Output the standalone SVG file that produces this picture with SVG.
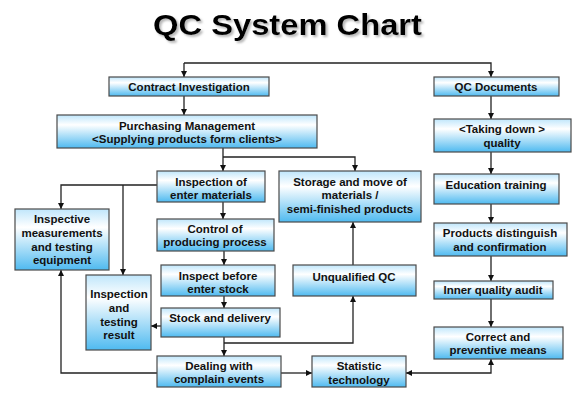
<svg xmlns="http://www.w3.org/2000/svg" width="585" height="402" viewBox="0 0 585 402">
<style>
.box{fill:url(#g);stroke:#4a4a4a;stroke-width:1.2}
.t{font-family:"Liberation Sans",Arial,sans-serif;font-weight:bold;font-size:11.5px;fill:#111;text-anchor:middle}
.c{fill:none;stroke:#222;stroke-width:1.3}
.title{font-family:"Liberation Sans",Arial,sans-serif;font-weight:bold;font-size:30px;text-anchor:middle}
</style>
<defs>
<linearGradient id="g" x1="0" y1="0" x2="0" y2="1">
<stop offset="0" stop-color="#bfe6fb"/>
<stop offset="0.3" stop-color="#ffffff"/>
<stop offset="1" stop-color="#4fbaf0"/>
</linearGradient>
<filter id="sh" x="-10%" y="-30%" width="120%" height="160%">
<feDropShadow dx="2" dy="2" stdDeviation="1" flood-color="#888" flood-opacity="0.6"/>
</filter>
<marker id="a" viewBox="0 0 10 10" refX="10" refY="5" markerWidth="6" markerHeight="6" orient="auto-start-reverse" markerUnits="userSpaceOnUse">
<path d="M0,0 L10,5 L0,10 z" fill="#111"/>
</marker>
</defs>
<rect width="585" height="402" fill="#fff"/>
<text class="title" x="287.5" y="35" fill="#000" filter="url(#sh)" textLength="269" lengthAdjust="spacingAndGlyphs">QC System Chart</text>

<g id="connectors">
<path class="c" d="M184,63 V77" marker-end="url(#a)"/>
<path class="c" d="M184,63 H491 V77" marker-end="url(#a)"/>
<path class="c" d="M184,96 V115" marker-end="url(#a)"/>
<path class="c" d="M223,148 V171" marker-end="url(#a)"/>
<path class="c" d="M223,157 H355 V171" marker-end="url(#a)"/>
<path class="c" d="M491,96 V119" marker-end="url(#a)"/>
<path class="c" d="M491,152 V174" marker-end="url(#a)"/>
<path class="c" d="M491,204 V223" marker-end="url(#a)"/>
<path class="c" d="M491,256 V281" marker-end="url(#a)"/>
<path class="c" d="M491,299 V327" marker-end="url(#a)"/>
<path class="c" d="M223,202 V219" marker-end="url(#a)"/>
<path class="c" d="M224,251 V265" marker-end="url(#a)"/>
<path class="c" d="M224,296 V308" marker-end="url(#a)"/>
<path class="c" d="M157,185 H61 V209" marker-end="url(#a)"/>
<path class="c" d="M123,185 V275" marker-end="url(#a)"/>
<path class="c" d="M161,326 H151" marker-end="url(#a)"/>
<path class="c" d="M224,337 V356" marker-end="url(#a)"/>
<path class="c" d="M224,343 H353 V296" marker-end="url(#a)"/>
<path class="c" d="M353,265 V222" marker-end="url(#a)"/>
<path class="c" d="M157,373 H61 V270" marker-end="url(#a)"/>
<path class="c" d="M281,373 H312" marker-end="url(#a)"/>
<path class="c" d="M406,373 H491 V359" marker-start="url(#a)" marker-end="url(#a)"/>
</g>

<g id="contract"><rect class="box" x="109" y="77" width="160" height="19"/><text class="t" x="189" y="91">Contract Investigation</text></g>
<g id="purchasing"><rect class="box" x="57" y="115" width="260" height="33"/><text class="t" x="187" y="130">Purchasing Management</text><text class="t" x="187" y="143">&lt;Supplying products form clients&gt;</text></g>
<g id="qcdocs"><rect class="box" x="434" y="77" width="125" height="19"/><text class="t" x="496" y="91">QC Documents</text></g>
<g id="takingdown"><rect class="box" x="434" y="119" width="137" height="33"/><text class="t" x="502" y="133">&lt;Taking down &gt;</text><text class="t" x="502" y="147">quality</text></g>
<g id="inspection-enter"><rect class="box" x="157" y="171" width="108" height="31"/><text class="t" x="211" y="186">Inspection of</text><text class="t" x="211" y="199">enter materials</text></g>
<g id="storage"><rect class="box" x="279" y="171" width="142" height="51"/><text class="t" x="350" y="186">Storage and move of</text><text class="t" x="350" y="199">materials /</text><text class="t" x="350" y="213">semi-finished products</text></g>
<g id="education"><rect class="box" x="434" y="174" width="125" height="30"/><text class="t" x="496" y="189">Education training</text></g>
<g id="control"><rect class="box" x="157" y="219" width="117" height="32"/><text class="t" x="215" y="233">Control of</text><text class="t" x="215" y="246">producing process</text></g>
<g id="products"><rect class="box" x="434" y="223" width="133" height="33"/><text class="t" x="500" y="237">Products distinguish</text><text class="t" x="500" y="251">and confirmation</text></g>
<g id="inspective"><rect class="box" x="15" y="209" width="94" height="61"/><text class="t" x="62" y="223">Inspective</text><text class="t" x="62" y="237">measurements</text><text class="t" x="62" y="251">and testing</text><text class="t" x="62" y="264">equipment</text></g>
<g id="inspect-before"><rect class="box" x="161" y="265" width="114" height="31"/><text class="t" x="218" y="280">Inspect before</text><text class="t" x="218" y="293">enter stock</text></g>
<g id="unqualified"><rect class="box" x="293" y="265" width="123" height="31"/><text class="t" x="354" y="281">Unqualified QC</text></g>
<g id="inner-audit"><rect class="box" x="434" y="281" width="119" height="18"/><text class="t" x="493" y="294">Inner quality audit</text></g>
<g id="inspection-result"><rect class="box" x="86" y="275" width="65" height="75"/><text class="t" x="119" y="298">Inspection</text><text class="t" x="119" y="312">and</text><text class="t" x="119" y="326">testing</text><text class="t" x="119" y="339">result</text></g>
<g id="stock"><rect class="box" x="161" y="308" width="119" height="29"/><text class="t" x="220" y="322">Stock and delivery</text></g>
<g id="correct"><rect class="box" x="434" y="327" width="129" height="32"/><text class="t" x="498" y="341">Correct and</text><text class="t" x="498" y="354">preventive means</text></g>
<g id="dealing"><rect class="box" x="157" y="356" width="124" height="31"/><text class="t" x="219" y="370">Dealing with</text><text class="t" x="219" y="383">complain events</text></g>
<g id="statistic"><rect class="box" x="312" y="356" width="94" height="31"/><text class="t" x="359" y="370">Statistic</text><text class="t" x="359" y="384">technology</text></g>
</svg>
